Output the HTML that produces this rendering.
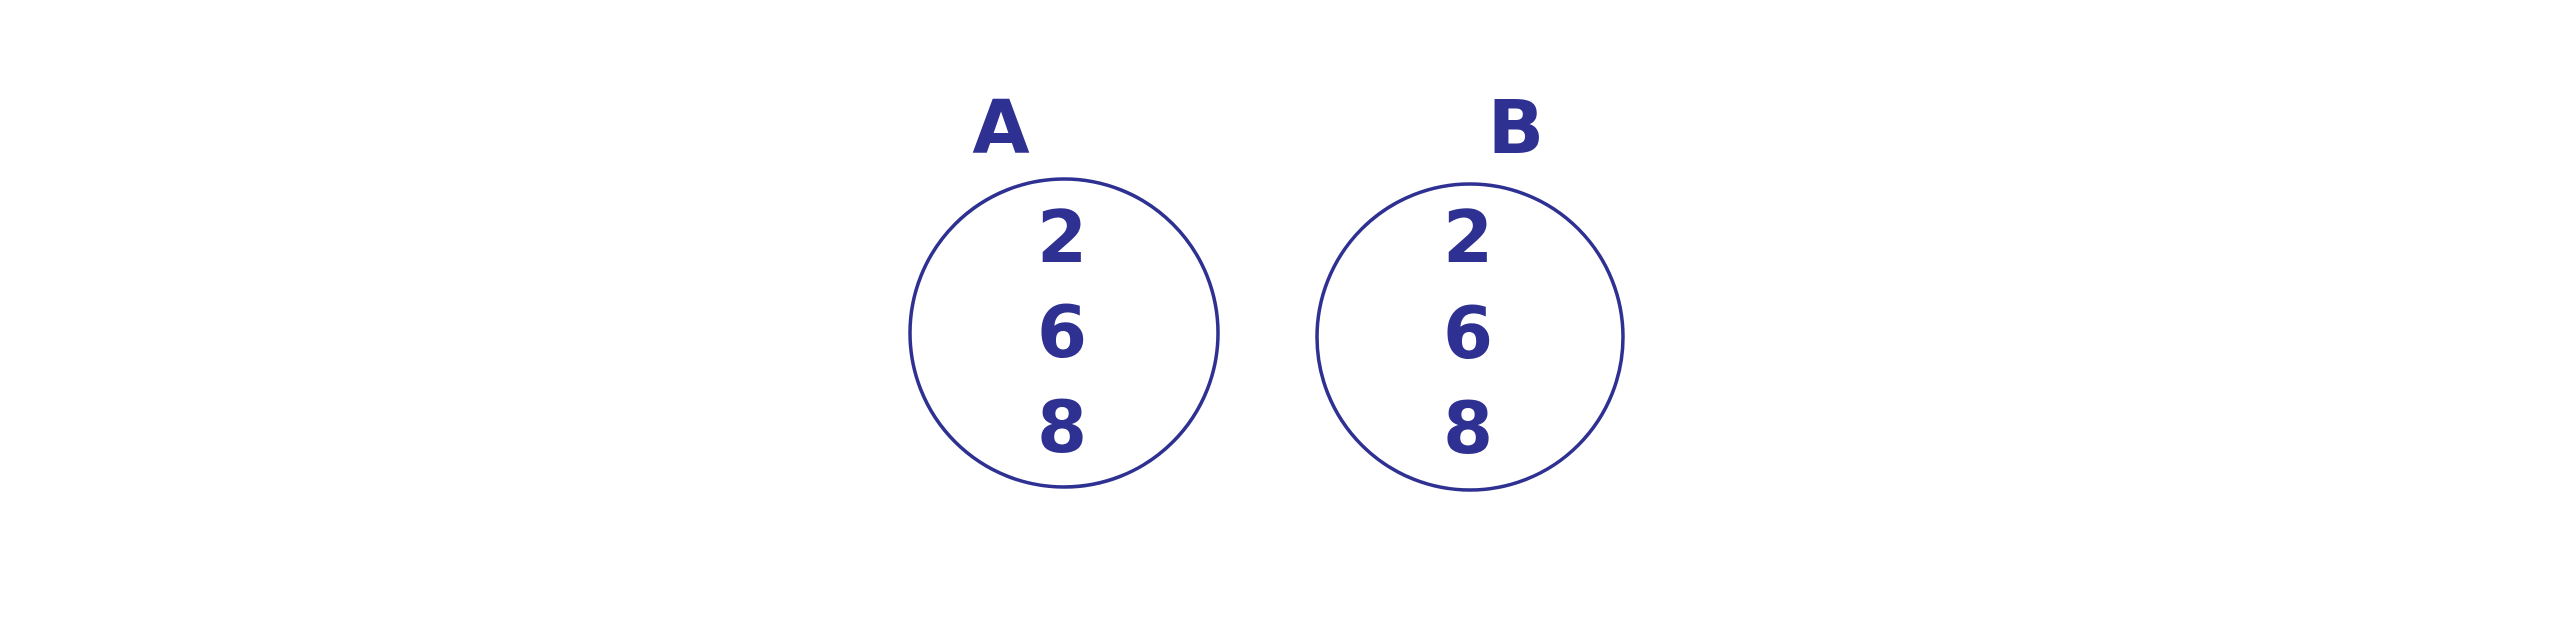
<!DOCTYPE html>
<html>
<head>
<meta charset="utf-8">
<style>
  html, body { margin: 0; padding: 0; background: #ffffff; }
  svg { display: block; }
  text { font-family: "DejaVu Sans", "Liberation Sans", sans-serif; font-weight: bold; fill: #2e3192; }
</style>
</head>
<body>
<svg width="2563" height="625" viewBox="0 0 2563 625">
  <g>
    <text x="1001" y="153" font-size="74" text-anchor="middle">A</text>
    <circle cx="1064" cy="333" r="154" fill="none" stroke="#2e3192" stroke-width="3.5"/>
    <text x="1062" y="262" font-size="72" text-anchor="middle">2</text>
    <text x="1062" y="357" font-size="72" text-anchor="middle">6</text>
    <text x="1062" y="452" font-size="72" text-anchor="middle">8</text>
  </g>
  <g>
    <text x="1516" y="153" font-size="74" text-anchor="middle">B</text>
    <circle cx="1470" cy="337" r="153" fill="none" stroke="#2e3192" stroke-width="3.5"/>
    <text x="1468" y="262" font-size="72" text-anchor="middle">2</text>
    <text x="1468" y="358" font-size="72" text-anchor="middle">6</text>
    <text x="1468" y="453" font-size="72" text-anchor="middle">8</text>
  </g>
</svg>
</body>
</html>
